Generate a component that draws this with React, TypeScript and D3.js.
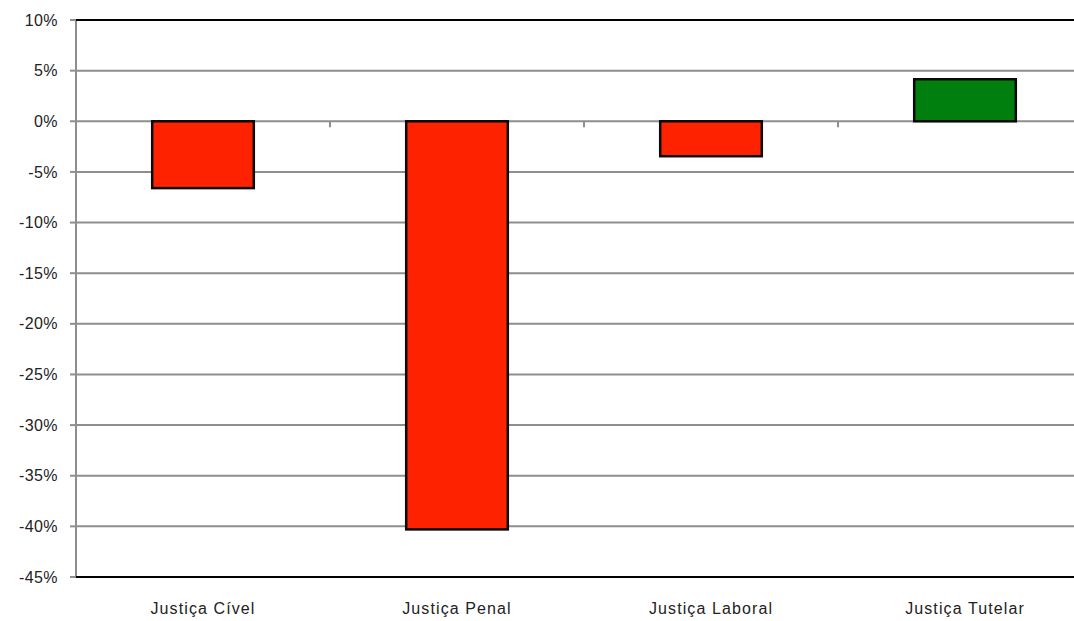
import { useEffect, useRef } from 'react';
import * as d3 from 'd3';

const CATEGORIES = ['Justiça Cível', 'Justiça Penal', 'Justiça Laboral', 'Justiça Tutelar'];
const VALUES = [-6.6, -40.3, -3.45, 4.15];
const Y_TICKS = [10, 5, 0, -5, -10, -15, -20, -25, -30, -35, -40, -45];

const W = 1074;
const H = 621;
const FONT = 'Arial, "Liberation Sans", Helvetica, sans-serif';

export default function App() {
  const svgRef = useRef<SVGSVGElement | null>(null);

  useEffect(() => {
    if (!svgRef.current) return;
    const svg = d3.select(svgRef.current);
    svg.selectAll('*').remove();

    const left = 76;
    const right = 1092; // plot area runs past the right edge
    const top = 20;
    const bottom = 577;

    const x = d3.scaleBand<string>().domain(CATEGORIES).range([left, right]).padding(0);
    const y = d3.scaleLinear().domain([-45, 10]).range([bottom, top]);

    svg.append('rect').attr('width', W).attr('height', H).attr('fill', '#fff');

    // gridlines
    svg.append('g')
      .selectAll('line')
      .data(Y_TICKS.filter((t) => t !== 10 && t !== -45))
      .join('line')
      .attr('x1', left).attr('x2', W)
      .attr('y1', (d) => y(d)).attr('y2', (d) => y(d))
      .attr('stroke', '#8e8e8e')
      .attr('stroke-width', 2);

    // left axis ticks
    svg.append('g')
      .selectAll('line')
      .data(Y_TICKS)
      .join('line')
      .attr('x1', left - 6).attr('x2', left)
      .attr('y1', (d) => y(d)).attr('y2', (d) => y(d))
      .attr('stroke', '#8e8e8e')
      .attr('stroke-width', 2);

    // category boundary ticks on the zero line
    svg.append('g')
      .selectAll('line')
      .data(CATEGORIES.slice(1))
      .join('line')
      .attr('x1', (d) => x(d)!).attr('x2', (d) => x(d)!)
      .attr('y1', y(0)).attr('y2', y(0) + 6)
      .attr('stroke', '#8e8e8e')
      .attr('stroke-width', 2);

    // y labels
    svg.append('g')
      .selectAll('text')
      .data(Y_TICKS)
      .join('text')
      .attr('x', 58)
      .attr('y', (d) => y(d))
      .attr('dy', '0.35em')
      .attr('text-anchor', 'end')
      .attr('font-family', FONT)
      .attr('font-size', 16)
      .attr('letter-spacing', 0.4)
      .attr('fill', '#222')
      .text((d) => `${d}%`);

    // bars
    const bw = x.bandwidth() * 0.4;
    svg.append('g')
      .selectAll('rect')
      .data(VALUES)
      .join('rect')
      .attr('x', (_, i) => x(CATEGORIES[i])! + (x.bandwidth() - bw) / 2)
      .attr('y', (d) => y(Math.max(0, d)))
      .attr('width', bw)
      .attr('height', (d) => Math.abs(y(d) - y(0)))
      .attr('fill', (d) => (d < 0 ? '#ff2200' : '#007f0e'))
      .attr('stroke', '#0a0a0a')
      .attr('stroke-width', 2.5);

    // plot border: gray left axis, black top and bottom
    svg.append('line')
      .attr('x1', left).attr('x2', left)
      .attr('y1', top).attr('y2', bottom)
      .attr('stroke', '#8e8e8e').attr('stroke-width', 2);
    svg.append('line')
      .attr('x1', left).attr('x2', W)
      .attr('y1', top).attr('y2', top)
      .attr('stroke', '#000').attr('stroke-width', 2);
    svg.append('line')
      .attr('x1', left).attr('x2', W)
      .attr('y1', bottom).attr('y2', bottom)
      .attr('stroke', '#000').attr('stroke-width', 2);

    // category labels
    svg.append('g')
      .selectAll('text')
      .data(CATEGORIES)
      .join('text')
      .attr('x', (d) => x(d)! + x.bandwidth() / 2)
      .attr('y', 614)
      .attr('text-anchor', 'middle')
      .attr('font-family', FONT)
      .attr('font-size', 16)
      .attr('letter-spacing', 1.1)
      .attr('fill', '#222')
      .text((d) => d);
  }, []);

  return (
    <svg
      ref={svgRef}
      width={W}
      height={H}
      style={{ position: 'absolute', left: 0, top: 0, display: 'block' }}
    />
  );
}
